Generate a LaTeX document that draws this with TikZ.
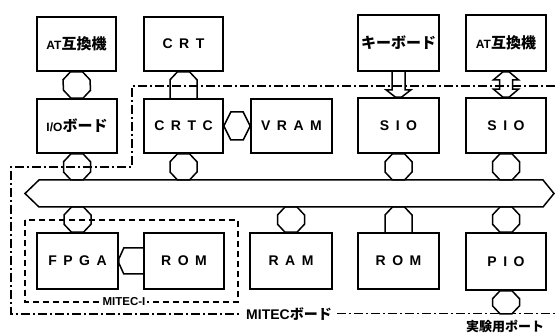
\documentclass[tikz,border=0pt]{standalone}
\usepackage{fontspec}
\setmainfont{Liberation Sans}
\newfontfamily\jp{Noto Sans CJK JP}
\usetikzlibrary{calc}
\newcommand\lsp{\hspace{6.5pt}}
\newcommand\octcon[2]{%
  \draw[conn] ($(#1)+(-6,0)$) -- ($(#1)+(6,0)$) -- ($(#1)+(13.5,8)$) -- ($(#2)+(13.5,-8)$)
    -- ($(#2)+(6,0)$) -- ($(#2)+(-6,0)$) -- ($(#2)+(-13.5,-8)$) -- ($(#1)+(-13.5,8)$) -- cycle;}
\newcommand\penup[2]{%
  \draw[conn] ($(#2)+(-13.5,0)$) -- ($(#1)+(-13.5,8)$) -- ($(#1)+(-6,0)$) -- ($(#1)+(6,0)$)
    -- ($(#1)+(13.5,8)$) -- ($(#2)+(13.5,0)$);}
\tikzset{
  blk/.style={draw, line width=1.6pt, inner sep=0pt, font=\fontsize{14}{16}\selectfont\bfseries},
  conn/.style={draw, line width=1.5pt, line join=miter},
  ddot/.style={line width=1.4pt, dash pattern=on 9pt off 3pt on 2pt off 3pt},
  dsh/.style={line width=1.6pt, dash pattern=on 6pt off 4pt},
  lbl/.style={fill=white, inner sep=2pt, font=\bfseries}
}
\begin{document}
\begin{tikzpicture}[x=1pt,y=-1pt]
\useasboundingbox (0,0) rectangle (555,334);
% boxes
\node[blk, minimum width=79pt, minimum height=54pt] (at1) at (76.5,44) {\fontsize{12}{14}\selectfont AT\jp\fontsize{15}{17}\selectfont 互換機};
\node[blk, minimum width=79pt, minimum height=54pt] (crt) at (183.5,44) {C\lsp R\lsp T};
\node[blk, minimum width=81pt, minimum height=56pt] (kbd) at (398.5,43) {\jp\fontsize{15}{17}\selectfont キーボード};
\node[blk, minimum width=80pt, minimum height=56pt] (at2) at (506,43) {\fontsize{12}{14}\selectfont AT\jp\fontsize{15}{17}\selectfont 互換機};
\node[blk, minimum width=80pt, minimum height=54pt] (io) at (77,126) {\fontsize{12}{14}\selectfont I/O\jp\fontsize{15}{17}\selectfont ボード};
\node[blk, minimum width=79pt, minimum height=54pt] (crtc) at (183.5,126) {C\lsp R\lsp T\lsp C};
\node[blk, minimum width=81pt, minimum height=54pt] (vram) at (291.5,126) {V\lsp R\lsp A\lsp M};
\node[blk, minimum width=81pt, minimum height=55pt] (sio1) at (398.5,125.5) {S\lsp I\lsp O};
\node[blk, minimum width=80pt, minimum height=55pt] (sio2) at (506,125.5) {S\lsp I\lsp O};
\node[blk, minimum width=81pt, minimum height=56pt] (fpga) at (77.5,261) {F\lsp P\lsp G\lsp A};
\node[blk, minimum width=80pt, minimum height=56pt] (rom1) at (184,261) {R\lsp O\lsp M};
\node[blk, minimum width=82pt, minimum height=56pt] (ram) at (291,261) {R\lsp A\lsp M};
\node[blk, minimum width=81pt, minimum height=56pt] (rom2) at (398.5,261) {R\lsp O\lsp M};
\node[blk, minimum width=80pt, minimum height=57pt] (pio) at (506,261.5) {P\lsp I\lsp O};
% bus
\coordinate (bl) at (25,193.5);
\coordinate (br) at (554,193.5);
\coordinate (bustop) at (0,180);
\coordinate (busbot) at (0,207);
\draw[conn] (bl) -- (39,180) -- (543,180) -- (br) -- (543,207) -- (39,207) -- cycle;
% bus attach points
\coordinate (tio) at (io.south |- bustop);
\coordinate (tcrtc) at (crtc.south |- bustop);
\coordinate (tsio1) at (sio1.south |- bustop);
\coordinate (tsio2) at (sio2.south |- bustop);
\coordinate (bfpga) at (fpga.north |- busbot);
\coordinate (bram) at (ram.north |- busbot);
\coordinate (brom2) at (rom2.north |- busbot);
\coordinate (bpio) at (pio.north |- busbot);
\coordinate (pb) at ($(pio.south)+(0,23)$);
% connectors
\octcon{at1.south}{io.north}
\penup{crt.south}{crtc.north}
\octcon{io.south}{tio}
\octcon{crtc.south}{tcrtc}
\octcon{sio1.south}{tsio1}
\octcon{sio2.south}{tsio2}
\octcon{bfpga}{fpga.north}
\octcon{bram}{ram.north}
\penup{brom2}{rom2.north}
\octcon{bpio}{pio.north}
\octcon{pio.south}{pb}
% CRTC - VRAM
\draw[conn] (crtc.east) -- ($(crtc.east)+(7,-14)$) -- ($(vram.west)+(-7,-14)$) -- (vram.west)
  -- ($(vram.west)+(-7,14)$) -- ($(crtc.east)+(7,14)$) -- cycle;
% FPGA - ROM
\draw[conn] ($(rom1.west)+(0,-13)$) -- ($(fpga.east)+(5,-13)$) -- ($(fpga.east)+(0,-2)$)
  -- ($(fpga.east)+(0,2)$) -- ($(fpga.east)+(5,13)$) -- ($(rom1.west)+(0,13)$);
% keyboard -> SIO
\draw[conn] ($(kbd.south)+(-6.5,0)$) -- ($(kbd.south)+(-6.5,18)$) -- ($(kbd.south)+(-12.5,18)$)
  -- ($(sio1.north)+(-3,0)$) -- ($(sio1.north)+(3,0)$) -- ($(kbd.south)+(12.5,18)$)
  -- ($(kbd.south)+(6.5,18)$) -- ($(kbd.south)+(6.5,0)$);
% AT2 <-> SIO2
\draw[conn] ($(at2.south)+(-3,0)$) -- ($(at2.south)+(3,0)$) -- ($(at2.south)+(12.5,8)$)
  -- ($(at2.south)+(6.5,8)$) -- ($(sio2.north)+(6.5,-8)$) -- ($(sio2.north)+(12.5,-8)$)
  -- ($(sio2.north)+(3,0)$) -- ($(sio2.north)+(-3,0)$) -- ($(sio2.north)+(-12.5,-8)$)
  -- ($(sio2.north)+(-6.5,-8)$) -- ($(at2.south)+(-6.5,8)$) -- ($(at2.south)+(-12.5,8)$) -- cycle;
% MITEC board boundary
\draw[ddot] (555,86) -- (132,86) -- (132,167) -- (11,167) -- (11,314) -- (241,314);
\draw[ddot] (337,313.5) -- (555,313.5);
\node[font=\fontsize{14}{16}\selectfont\bfseries, inner sep=0pt] (mb) at (289,314) {MITEC\jp ボード};
% MITEC-I box
\draw[dsh] (25,220) rectangle (238,302);
\node[lbl, font=\fontsize{11.5}{13}\selectfont\bfseries] (m1) at (124,302) {MITEC-I};
\node[font=\fontsize{13}{15}\selectfont\bfseries\jp, inner sep=0pt] (port) at (505,326) {実験用ポート};
\end{tikzpicture}
\end{document}
